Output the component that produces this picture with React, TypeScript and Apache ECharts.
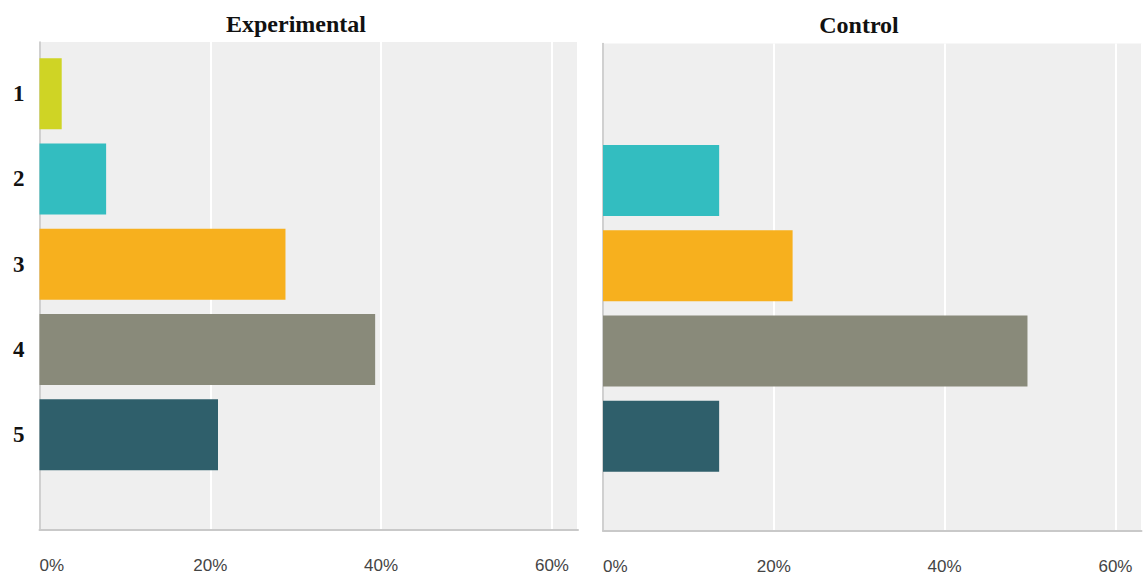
import React, { useEffect, useRef } from "react";
import * as echarts from "echarts";

const categories = ["1", "2", "3", "4", "5"];
const experimentalValues = [2.6, 7.8, 28.8, 39.3, 20.9];
const controlValues = [0, 13.6, 22.2, 49.7, 13.6];
const barColors = ["#cfd425", "#33bdc0", "#f7b01e", "#898a7a", "#2f5f6b"];
const xTicks = [0, 20, 40, 60];
const panelTitles = ["Experimental", "Control"];

const X_MAX = 63.05;

function panel(idx: number, left: number, top: number, values: number[], showCats: boolean) {
  const g0 = idx * 2;
  const g1 = idx * 2 + 1;
  const width = 538.5;
  const grids = [
    { left, top, width, height: 488, show: true, backgroundColor: "#efefef", borderWidth: 0 },
    { left, top: top + 9, width, height: 426.5, show: false },
  ];
  const xAxes = [
    {
      gridIndex: g0,
      type: "value",
      min: xTicks[0],
      max: X_MAX,
      interval: xTicks[1] - xTicks[0],
      axisLine: { show: true, lineStyle: { color: "#c9c9c9", width: 2 } },
      axisTick: { show: false },
      splitLine: { show: true, lineStyle: { color: "#ffffff", width: 2 } },
      axisLabel: {
        show: true,
        formatter: "{value}%",
        color: "#444444",
        fontSize: 17,
        fontFamily: "Liberation Sans",
        margin: 27,
        showMaxLabel: false,
        alignMinLabel: "left",
      },
    },
    { gridIndex: g1, type: "value", min: xTicks[0], max: X_MAX, show: false },
  ];
  const yAxes = [
    {
      gridIndex: g0,
      type: "value",
      min: 0,
      max: 1,
      axisLine: { show: true, onZero: false, lineStyle: { color: "#c0c0c0", width: 1.5 } },
      axisTick: { show: false },
      axisLabel: { show: false },
      splitLine: { show: false },
    },
    {
      gridIndex: g1,
      type: "category",
      data: categories,
      inverse: true,
      axisLine: { show: false },
      axisTick: { show: false },
      splitLine: { show: false },
      axisLabel: {
        show: showCats,
        color: "#111111",
        fontSize: 23,
        fontWeight: "bold",
        fontFamily: "Liberation Serif",
        margin: 15,
      },
    },
  ];
  const series = [
    {
      type: "bar",
      xAxisIndex: g1,
      yAxisIndex: g1,
      barWidth: 71,
      data: values.map((v, i) => ({ value: v, itemStyle: { color: barColors[i] } })),
    },
  ];
  return { grids, xAxes, yAxes, series };
}

export default function App() {
  const ref = useRef<HTMLDivElement>(null);
  useEffect(() => {
    if (!ref.current) return;
    const chart = echarts.init(ref.current, undefined, { renderer: "svg" });
    const p1 = panel(0, 39.5, 42, experimentalValues, true);
    const p2 = panel(1, 603, 43.5, controlValues, false);
    chart.setOption({
      animation: false,
      backgroundColor: "#ffffff",
      grid: [...p1.grids, ...p2.grids],
      xAxis: [...p1.xAxes, ...p2.xAxes],
      yAxis: [...p1.yAxes, ...p2.yAxes],
      series: [...p1.series, ...p2.series],
      graphic: [
        {
          type: "text",
          x: 296,
          y: 24,
          style: {
            text: panelTitles[0],
            font: 'bold 24px "Liberation Serif"',
            fill: "#111111",
            align: "center",
            verticalAlign: "middle",
          },
        },
        {
          type: "text",
          x: 859,
          y: 25,
          style: {
            text: panelTitles[1],
            font: 'bold 24px "Liberation Serif"',
            fill: "#111111",
            align: "center",
            verticalAlign: "middle",
          },
        },
      ],
    });
    return () => chart.dispose();
  }, []);
  return (
    <div
      ref={ref}
      style={{ position: "absolute", left: 0, top: 0, width: 1143, height: 575 }}
    />
  );
}
